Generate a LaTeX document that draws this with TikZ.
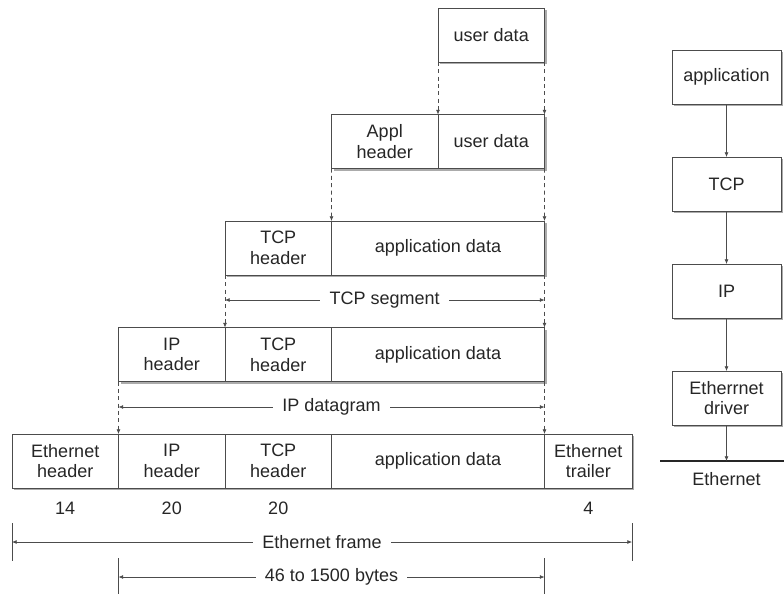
\documentclass[tikz,border=0pt]{standalone}
\usepackage{fontspec}
\setmainfont{Liberation Sans}
\usetikzlibrary{arrows.meta, shadows}

\begin{document}
\begin{tikzpicture}[x=0.75pt, y=-0.75pt,
        every node/.style={font=\fontsize{13.5}{15.5}\selectfont, align=center, text=black!85},
        cell/.style={draw=black!70, line width=0.6pt, fill=white, inner sep=0pt, outer sep=0pt,
                     minimum height=40.5pt, minimum width=79.9pt,
                     drop shadow={shadow xshift=1.8pt, shadow yshift=-1.8pt, opacity=0.55, fill=black!60}},
        wide/.style={cell, minimum width=159.75pt},
        trail/.style={cell, minimum width=65.6pt},
        layer/.style={cell, minimum width=81.75pt},
        tip/.style={-{Latex[length=3.5pt, width=3pt]}},
        drop/.style={tip, draw=black!70, line width=0.5pt, dashed, dash pattern=on 3pt off 2.5pt},
        span/.style={{Latex[length=3.5pt, width=3pt]}-{Latex[length=3.5pt, width=3pt]}, draw=black!70, line width=0.5pt},
        tick/.style={draw=black!70, line width=0.6pt},
        lbl/.style={fill=white, inner xsep=7pt, inner ysep=2pt}]
        \useasboundingbox (0,0) rectangle (784,594);

        % encapsulation rows
        \node[cell] (ud1) at (491.25,35) {user data};

        \node[cell] (appl2) at (384.75,141.5) {Appl\\header};
        \node[cell] (ud2) at (491.25,141.5) {user data};

        \node[cell] (tcp3) at (278.25,248) {TCP\\header};
        \node[wide] (ad3) at (438,248) {application data};

        \node[cell] (ip4) at (171.75,354.5) {IP\\header};
        \node[cell] (tcp4) at (278.25,354.5) {TCP\\header};
        \node[wide] (ad4) at (438,354.5) {application data};

        \node[cell] (eth5) at (65.25,461) {Ethernet\\header};
        \node[cell] (ip5) at (171.75,461) {IP\\header};
        \node[cell] (tcp5) at (278.25,461) {TCP\\header};
        \node[wide] (ad5) at (438,461) {application data};
        \node[trail] (trl5) at (588.25,461) {Ethernet\\trailer};

        % field sizes
        \node (n14) at (65.25,508) {14};
        \node (n20a) at (171.75,508) {20};
        \node (n20b) at (278.25,508) {20};
        \node (n4) at (588.25,508) {4};

        % dashed drops between rows
        \draw[drop] (ud1.south west) -- (ud2.north west);
        \draw[drop] (ud1.south east) -- (ud2.north east);
        \draw[drop] (appl2.south west) -- (ad3.north west);
        \draw[drop] (ud2.south east) -- (ad3.north east);
        \draw[drop] (tcp3.south west) -- (tcp4.north west);
        \draw[drop] (ad3.south east) -- (ad4.north east);
        \draw[drop] (ip4.south west) -- (ip5.north west);
        \draw[drop] (ad4.south east) -- (ad5.north east);

        % spans
        \coordinate (segL) at (225,300);
        \coordinate (segR) at (544.5,300);
        \draw[span] (segL) -- (segR) node[midway, lbl] {TCP segment};

        \coordinate (dgL) at (118.5,407);
        \coordinate (dgR) at (544.5,407);
        \draw[span] (dgL) -- (dgR) node[midway, lbl] {IP datagram};

        \coordinate (frL) at (12,542);
        \coordinate (frR) at (632,542);
        \draw[tick] (12,523) -- (12,561);
        \draw[tick] (632,523) -- (632,561);
        \draw[span] (frL) -- (frR) node[midway, lbl] {Ethernet frame};

        \coordinate (byL) at (118.5,577);
        \coordinate (byR) at (544.5,577);
        \draw[tick] (118.5,558) -- (118.5,594);
        \draw[tick] (544.5,558) -- (544.5,594);
        \draw[span] (byL) -- (byR) node[midway, lbl] {46 to 1500 bytes};

        % protocol stack
        \node[layer] (app) at (726.5,77) {application};
        \node[layer] (tcp) at (726.5,184) {TCP};
        \node[layer] (ip) at (726.5,291) {IP};
        \node[layer] (drv) at (726.5,398) {Etherrnet\\driver};
        \coordinate (bus) at (726.5,461);
        \draw[black!85, line width=2pt] (660,461) -- (784,461);
        \node (busname) at (726.5,479) {Ethernet};

        \draw[tip, draw=black!70, line width=0.5pt] (app) -- (tcp);
        \draw[tip, draw=black!70, line width=0.5pt] (tcp) -- (ip);
        \draw[tip, draw=black!70, line width=0.5pt] (ip) -- (drv);
        \draw[tip, draw=black!70, line width=0.5pt] (drv) -- (bus);
\end{tikzpicture}
\end{document}
